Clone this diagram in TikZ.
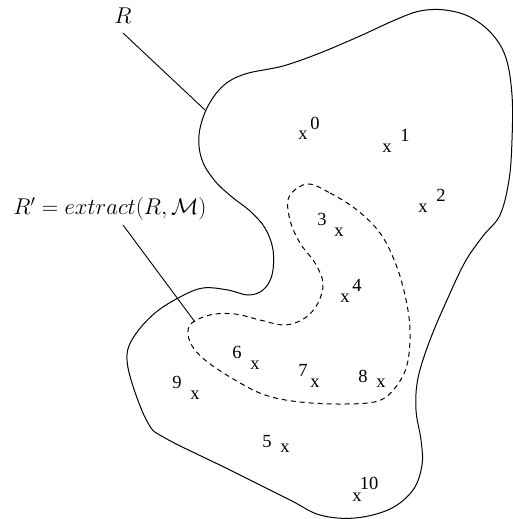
\documentclass[tikz,border=0pt]{standalone}
\usepackage{fontspec}
\newfontfamily\timesf{Liberation Serif}
\begin{document}
\begin{tikzpicture}[x=1pt,y=-1pt,
  region/.style={line width=1pt, line join=round},
  subregion/.style={line width=1pt, dash pattern=on 5pt off 4pt},
  lead/.style={line width=0.9pt},
  ptlab/.style={inner sep=0pt, font=\timesf\fontsize{18.5}{20}\selectfont},
  mlab/.style={inner sep=0pt, scale=1.1, font=\fontsize{20.74}{24}\selectfont}]
\useasboundingbox (0,0) rectangle (513,519);
% region R
\draw[region] plot[smooth cycle, tension=0.6] coordinates {
(207,108) (223,86) (245,74) (283,66) (320,53) (360,36) (395,20) (420,11) (445,10) (470,17) (492,34) (506,58) (512,95) (512,140) (509,180) (500,215) (483,236) (465,262) (447,300) (430,340) (418,378) (416,410) (421,440) (422,465) (413,490) (390,509) (355,518) (320,515) (290,500) (230,470) (165,438) (148,423) (132,383) (127,355) (135,335) (155,313) (180,297) (203,288) (228,290) (248,295) (263,290) (272,275) (273,250) (265,228) (250,211) (232,197) (215,181) (202,160) (199,135)};
% region R'
\draw[subregion] plot[smooth cycle, tension=0.6] coordinates {
(307,184) (330,193) (357,210) (380,233) (395,262) (405,295) (410,330) (407,365) (395,388) (378,401) (345,404) (300,402) (265,395) (235,380) (205,360) (190,342) (190,325) (210,315) (235,314) (260,320) (285,325) (305,318) (318,303) (323,283) (315,263) (300,243) (290,220) (289,197)};
% labels
\node[mlab] (R) at (123,16) {$R$};
\node[mlab] (Rp) at (110,209) {$R' = extract(R,\mathcal{M})$};
\coordinate (Rs) at (123,33);
\coordinate (Rt) at (205,110);
\coordinate (Rps) at (123,225);
\coordinate (Rpt) at (195,322);
\draw[lead] (Rs) -- (Rt);
\draw[lead] (Rps) -- (Rpt);
% points
\node[ptlab] (p0x) at (303,135) {x};  \node[ptlab] (p0n) at (315,123) {0};
\node[ptlab] (p1x) at (387,148) {x};  \node[ptlab] (p1n) at (405,135) {1};
\node[ptlab] (p2x) at (423,208) {x};  \node[ptlab] (p2n) at (441,195) {2};
\node[ptlab] (p3n) at (322,219) {3};  \node[ptlab] (p3x) at (339,232) {x};
\node[ptlab] (p4x) at (345,298) {x};  \node[ptlab] (p4n) at (357,285) {4};
\node[ptlab] (p6n) at (237,352) {6};  \node[ptlab] (p6x) at (255,365) {x};
\node[ptlab] (p7n) at (303,370) {7};  \node[ptlab] (p7x) at (315,383) {x};
\node[ptlab] (p8n) at (363,376) {8};  \node[ptlab] (p8x) at (381,383) {x};
\node[ptlab] (p9n) at (177,382) {9};  \node[ptlab] (p9x) at (195,395) {x};
\node[ptlab] (p5n) at (267,442) {5};  \node[ptlab] (p5x) at (285,448) {x};
\node[ptlab] (p10x) at (357,497) {x}; \node[ptlab] (p10n) at (369,483) {10};
\end{tikzpicture}
\end{document}
